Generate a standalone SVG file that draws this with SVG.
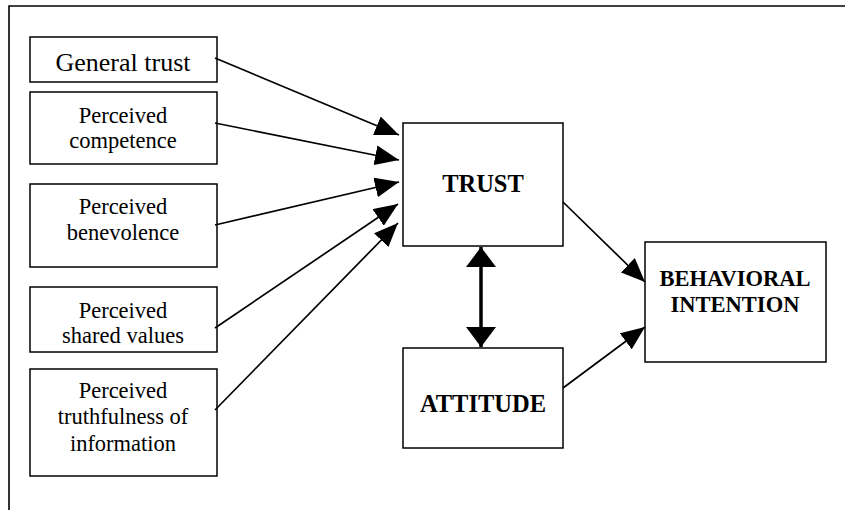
<svg xmlns="http://www.w3.org/2000/svg" width="845" height="510" viewBox="0 0 845 510">
<style>
.box{fill:#fff;stroke:#000;stroke-width:1.5}
.t{font-family:"Liberation Serif","Times New Roman",serif;fill:#000;text-anchor:middle}
.s{font-size:22.5px}
.b{font-weight:bold}
.ln{stroke:#000;stroke-width:1.7;fill:none}
</style>
<defs>
<marker id="ah" markerUnits="userSpaceOnUse" markerWidth="24" markerHeight="20" refX="24" refY="10" orient="auto">
<path d="M0,0 L24,10 L0,20 z" fill="#000"/>
</marker>
<marker id="big" markerUnits="userSpaceOnUse" markerWidth="20" markerHeight="30" refX="20" refY="15" orient="auto-start-reverse">
<path d="M0,0 L20,15 L0,30 z" fill="#000"/>
</marker>
</defs>
<g id="frame"><path d="M9,510 V6 H845" fill="none" stroke="#000" stroke-width="1.6"/></g>
<g id="general-trust"><rect class="box" x="30" y="37" width="187" height="45"/><text class="t" x="123" y="71" font-size="26">General trust</text></g>
<g id="competence"><rect class="box" x="30" y="92" width="187" height="72"/><text class="t s" x="123" y="123">Perceived</text><text class="t s" x="123" y="148">competence</text></g>
<g id="benevolence"><rect class="box" x="30" y="184" width="187" height="83"/><text class="t s" x="123" y="214">Perceived</text><text class="t s" x="123" y="240">benevolence</text></g>
<g id="shared-values"><rect class="box" x="30" y="287" width="187" height="65"/><text class="t s" x="123" y="318">Perceived</text><text class="t s" x="123" y="343">shared values</text></g>
<g id="truthfulness"><rect class="box" x="30" y="369" width="187" height="107"/><text class="t s" x="123" y="398">Perceived</text><text class="t s" x="123" y="424">truthfulness of</text><text class="t s" x="123" y="451">information</text></g>
<g id="trust"><rect class="box" x="403" y="123" width="160" height="123"/><text class="t b" x="483" y="192" font-size="24.5">TRUST</text></g>
<g id="attitude"><rect class="box" x="403" y="348" width="160" height="100"/><text class="t b" x="483" y="412" font-size="24.5">ATTITUDE</text></g>
<g id="behavioral-intention"><rect class="box" x="645" y="242" width="181" height="120"/><text class="t b" x="735" y="286" font-size="22.5">BEHAVIORAL</text><text class="t b" x="735" y="312" font-size="22.5">INTENTION</text></g>
<g id="connectors">
<line class="ln" x1="215" y1="58" x2="399" y2="135" marker-end="url(#ah)"/>
<line class="ln" x1="215" y1="123" x2="399" y2="160" marker-end="url(#ah)"/>
<line class="ln" x1="215" y1="225" x2="399" y2="182" marker-end="url(#ah)"/>
<line class="ln" x1="215" y1="328" x2="398" y2="204" marker-end="url(#ah)"/>
<line class="ln" x1="215" y1="410" x2="398" y2="223" marker-end="url(#ah)"/>
<line class="ln" x1="563" y1="202" x2="645" y2="282" marker-end="url(#ah)"/>
<line class="ln" x1="563" y1="388" x2="645" y2="327" marker-end="url(#ah)"/>
<line x1="481" y1="247" x2="481" y2="347" stroke="#000" stroke-width="3.5" marker-start="url(#big)" marker-end="url(#big)"/>
</g>
</svg>
